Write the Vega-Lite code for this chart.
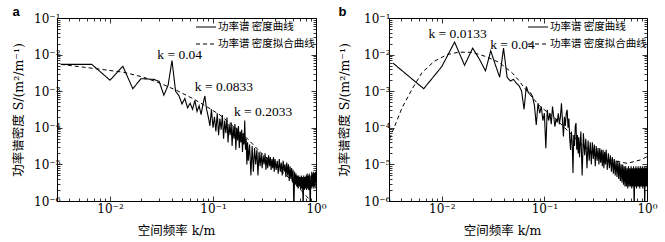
{
"$schema": "https://vega.github.io/schema/vega-lite/v6.json",
"background": "white",
"padding": {"left": 12, "top": 5, "right": 2, "bottom": 2},
"spacing": 11,
"resolve": {"scale": {"strokeDash": "independent"}, "legend": {"strokeDash": "independent"}},
"config": {
  "view": {"stroke": "black", "strokeWidth": 1},
  "axis": {"domain": false, "grid": false, "tickColor": "black", "tickWidth": 0.8, "labelFont": "DejaVu Serif", "labelFontSize": 12, "labelColor": "black", "labelOverlap": false, "labelFlush": false, "titleFont": "DejaVu Serif, Noto Sans CJK SC", "titleFontSize": 12.5, "titleFontWeight": "normal", "titleColor": "black"},
  "legend": {"padding": 0, "labelOffset": 1, "symbolType": "stroke", "symbolSize": 400, "symbolStrokeWidth": 1.1, "symbolStrokeColor": "black", "labelFont": "Noto Sans CJK SC", "labelFontSize": 10.5, "labelColor": "black", "labelLimit": 200},
  "title": {"anchor": "start", "frame": "bounds", "font": "Liberation Sans", "fontSize": 13, "fontWeight": "bold", "color": "black", "offset": -7}
},
"datasets": {
  "a_psd": [
    {"k":0.003333,"S":5.4e-3},{"k":0.006667,"S":5.4e-3},{"k":0.01,"S":2.0e-3},{"k":0.013333,"S":4.8e-3},{"k":0.016667,"S":1.17e-3},{"k":0.02,"S":2.2e-3},{"k":0.023333,"S":2.15e-3},{"k":0.026667,"S":2.1e-3},{"k":0.03,"S":1.86e-3},{"k":0.033333,"S":7.8e-4},
    {"k":0.036667,"S":1.45e-3},{"k":0.04,"S":6.9e-3},{"k":0.043333,"S":1.0e-3},{"k":0.046667,"S":7.6e-4},{"k":0.05,"S":4.5e-4},{"k":0.053333,"S":6.3e-4},{"k":0.056667,"S":3.5e-4},{"k":0.06,"S":4.7e-4},{"k":0.063333,"S":3.2e-4},{"k":0.066667,"S":5.6e-4},
    {"k":0.07,"S":2.8e-4},{"k":0.073333,"S":4.0e-4},{"k":0.076667,"S":2.3e-4},{"k":0.08,"S":4.5e-4},{"k":0.083333,"S":7.4e-4},{"k":0.086667,"S":3.2e-4},{"k":0.09,"S":2.0e-4},{"k":0.093333,"S":1.12e-4},{"k":0.096667,"S":3.2e-4},{"k":0.1,"S":1.0e-4},
    {"k":0.103333,"S":2.0e-4},{"k":0.106667,"S":7.9e-5},{"k":0.11,"S":2.5e-4},{"k":0.113333,"S":6.3e-5},{"k":0.116667,"S":1.78e-4},{"k":0.12,"S":8.9e-5},{"k":0.123333,"S":2.24e-4},{"k":0.126667,"S":5.0e-5},{"k":0.13,"S":1.58e-4},{"k":0.133333,"S":7.1e-5},
    {"k":0.136667,"S":1.9e-4},{"k":0.14,"S":4.0e-5},{"k":0.143333,"S":1.26e-4},{"k":0.146667,"S":6.3e-5},{"k":0.15,"S":1.41e-4},{"k":0.153333,"S":3.2e-5},{"k":0.156667,"S":1.12e-4},{"k":0.16,"S":5.0e-5},{"k":0.163333,"S":1.26e-4},{"k":0.166667,"S":2.5e-5},
    {"k":0.17,"S":1.0e-4},{"k":0.173333,"S":4.5e-5},{"k":0.176667,"S":1.12e-4},{"k":0.18,"S":2.8e-5},{"k":0.183333,"S":7.9e-5},{"k":0.186667,"S":4.0e-5},{"k":0.19,"S":8.9e-5},{"k":0.193333,"S":2.2e-5},{"k":0.196667,"S":7.1e-5},{"k":0.2,"S":3.5e-5},
    {"k":0.203333,"S":1.58e-4},{"k":0.206667,"S":2.5e-5},{"k":0.21,"S":5.0e-5},{"k":0.213333,"S":1.0e-5},{"k":0.216667,"S":4.0e-5},{"k":0.22,"S":1.26e-5},{"k":0.226667,"S":3.5e-5},{"k":0.233333,"S":5.0e-6},{"k":0.24,"S":3.2e-5},{"k":0.246667,"S":6.3e-6},
    {"k":0.253333,"S":2.8e-5},{"k":0.26,"S":1.0e-5},{"k":0.266667,"S":2.5e-5},{"k":0.273333,"S":5.0e-6},{"k":0.28,"S":2.2e-5},{"k":0.286667,"S":8.9e-6},{"k":0.293333,"S":2.0e-5},{"k":0.3,"S":7.9e-6},{"k":0.306667,"S":1.78e-5},{"k":0.313333,"S":1.0e-5},
    {"k":0.32,"S":2.0e-5},{"k":0.326667,"S":7.1e-6},{"k":0.333333,"S":1.58e-5},{"k":0.34,"S":7.9e-6},{"k":0.346667,"S":1.78e-5},{"k":0.353333,"S":8.9e-6},{"k":0.36,"S":1.58e-5},{"k":0.366667,"S":7.1e-6},{"k":0.373333,"S":1.41e-5},{"k":0.38,"S":7.9e-6},
    {"k":0.386667,"S":1.58e-5},{"k":0.393333,"S":6.3e-6},{"k":0.4,"S":1.41e-5},{"k":0.41,"S":7.1e-6},{"k":0.42,"S":1.26e-5},{"k":0.43,"S":5.6e-6},{"k":0.44,"S":1.41e-5},{"k":0.45,"S":6.3e-6},{"k":0.46,"S":1.12e-5},{"k":0.47,"S":5.0e-6},
    {"k":0.48,"S":1.26e-5},{"k":0.49,"S":6.3e-6},{"k":0.5,"S":1.0e-5},{"k":0.51,"S":4.5e-6},{"k":0.52,"S":1.12e-5},{"k":0.53,"S":5.0e-6},{"k":0.54,"S":1.0e-5},{"k":0.55,"S":3.5e-6},{"k":0.56,"S":8.9e-6},{"k":0.57,"S":4.0e-6},
    {"k":0.58,"S":7.9e-6},{"k":0.59,"S":3.2e-6},{"k":0.6,"S":7.1e-6},{"k":0.61,"S":5.0e-7},{"k":0.62,"S":6.3e-6},{"k":0.63,"S":2.8e-6},{"k":0.64,"S":5.6e-6},{"k":0.65,"S":2.5e-6},{"k":0.66,"S":5.0e-6},{"k":0.67,"S":2.2e-6},
    {"k":0.68,"S":5.0e-6},{"k":0.69,"S":2.5e-6},{"k":0.7,"S":4.5e-6},{"k":0.71,"S":2.0e-6},{"k":0.72,"S":5.0e-6},{"k":0.73,"S":2.2e-6},{"k":0.74,"S":4.5e-6},{"k":0.75,"S":5.0e-7},{"k":0.76,"S":5.0e-6},{"k":0.77,"S":2.0e-6},
    {"k":0.78,"S":4.5e-6},{"k":0.79,"S":2.2e-6},{"k":0.8,"S":5.0e-6},{"k":0.81,"S":2.0e-6},{"k":0.82,"S":5.6e-6},{"k":0.83,"S":2.2e-6},{"k":0.84,"S":5.0e-6},{"k":0.85,"S":2.0e-6},{"k":0.86,"S":5.6e-6},{"k":0.87,"S":2.5e-6},
    {"k":0.88,"S":5.0e-7},{"k":0.89,"S":5.0e-6},{"k":0.9,"S":2.2e-6},{"k":0.91,"S":6.3e-6},{"k":0.92,"S":2.5e-6},{"k":0.93,"S":5.6e-6},{"k":0.94,"S":2.2e-6},{"k":0.95,"S":6.3e-6},{"k":0.96,"S":2.5e-6},{"k":0.97,"S":5.6e-6},
    {"k":0.98,"S":2.2e-6},{"k":0.99,"S":6.3e-6},{"k":1.0,"S":3.2e-6}
  ],
  "a_fit": [
    {"k":0.003333,"S":5.4e-3},{"k":0.0069,"S":4.2e-3},{"k":0.0135,"S":3.3e-3},{"k":0.021,"S":2.43e-3},{"k":0.0306,"S":1.66e-3},{"k":0.0444,"S":1.05e-3},{"k":0.0644,"S":6.2e-4},{"k":0.0867,"S":3.8e-4},
    {"k":0.117,"S":2.24e-4},{"k":0.157,"S":1.12e-4},{"k":0.211,"S":5.4e-5},{"k":0.285,"S":2.24e-5},{"k":0.414,"S":8.7e-6},{"k":0.6,"S":3.4e-6},{"k":0.87,"S":1.07e-6},{"k":1.0,"S":6.3e-7}
  ],
  "a_txt": [
    {"k":0.0288,"S":0.0097,"label":"k = 0.04"},{"k":0.0666,"S":0.00127,"label":"k = 0.0833"},{"k":0.1596,"S":0.000263,"label":"k = 0.2033"}
  ],
  "b_psd": [
    {"k":0.003333,"S":5.9e-3},{"k":0.006667,"S":1.17e-3},{"k":0.01,"S":4.7e-3},{"k":0.013333,"S":2.2e-2},{"k":0.016667,"S":5.1e-3},{"k":0.02,"S":1.5e-2},{"k":0.023333,"S":7.4e-3},{"k":0.026667,"S":3.6e-3},{"k":0.03,"S":1.26e-2},{"k":0.033333,"S":5.2e-3},
    {"k":0.036667,"S":2.4e-3},{"k":0.04,"S":1.5e-2},{"k":0.043333,"S":2.4e-3},{"k":0.046667,"S":1.9e-3},{"k":0.05,"S":2.1e-3},{"k":0.053333,"S":1.66e-3},{"k":0.056667,"S":1.41e-3},{"k":0.06,"S":1.0e-3},{"k":0.063333,"S":3.2e-4},{"k":0.066667,"S":1.35e-3},
    {"k":0.07,"S":8.9e-4},{"k":0.073333,"S":8.9e-4},{"k":0.076667,"S":7.2e-4},{"k":0.08,"S":4.0e-4},{"k":0.083333,"S":1.2e-4},{"k":0.086667,"S":4.7e-4},{"k":0.09,"S":2.5e-4},{"k":0.093333,"S":3.8e-4},{"k":0.096667,"S":1.58e-4},{"k":0.1,"S":2.5e-4},
    {"k":0.103333,"S":2.75e-5},{"k":0.106667,"S":3.1e-4},{"k":0.11,"S":1.58e-4},{"k":0.113333,"S":2.5e-4},{"k":0.116667,"S":1.26e-4},{"k":0.12,"S":3.8e-4},{"k":0.123333,"S":2.0e-4},{"k":0.126667,"S":1.07e-4},{"k":0.13,"S":1.78e-4},{"k":0.133333,"S":1.41e-4},
    {"k":0.136667,"S":2.5e-4},{"k":0.14,"S":1.26e-4},{"k":0.143333,"S":2.0e-4},{"k":0.146667,"S":4.7e-4},{"k":0.15,"S":1.58e-4},{"k":0.153333,"S":5.8e-5},{"k":0.156667,"S":2.0e-4},{"k":0.16,"S":1.12e-4},{"k":0.163333,"S":2.5e-4},{"k":0.166667,"S":3.1e-4},
    {"k":0.17,"S":1.0e-4},{"k":0.173333,"S":1.78e-4},{"k":0.176667,"S":5.0e-5},{"k":0.18,"S":2.5e-5},{"k":0.183333,"S":7.9e-5},{"k":0.186667,"S":4.0e-5},{"k":0.19,"S":5.8e-6},{"k":0.193333,"S":6.3e-5},{"k":0.196667,"S":3.2e-5},{"k":0.2,"S":1.12e-4},
    {"k":0.203333,"S":1.35e-4},{"k":0.206667,"S":2.5e-5},{"k":0.21,"S":6.3e-5},{"k":0.213333,"S":2.0e-5},{"k":0.216667,"S":5.6e-5},{"k":0.22,"S":1.58e-5},{"k":0.226667,"S":7.9e-5},{"k":0.233333,"S":5.0e-6},{"k":0.24,"S":7.1e-5},{"k":0.246667,"S":1.78e-5},
    {"k":0.253333,"S":5.0e-5},{"k":0.26,"S":7.9e-6},{"k":0.266667,"S":4.5e-5},{"k":0.273333,"S":1.26e-5},{"k":0.28,"S":4.0e-5},{"k":0.286667,"S":1.0e-5},{"k":0.293333,"S":4.0e-5},{"k":0.3,"S":1.41e-5},{"k":0.306667,"S":3.5e-5},{"k":0.313333,"S":8.9e-6},
    {"k":0.32,"S":3.2e-5},{"k":0.326667,"S":1.26e-5},{"k":0.333333,"S":2.8e-5},{"k":0.34,"S":1.0e-5},{"k":0.346667,"S":2.8e-5},{"k":0.353333,"S":1.12e-5},{"k":0.36,"S":2.5e-5},{"k":0.366667,"S":8.9e-6},{"k":0.373333,"S":2.5e-5},{"k":0.38,"S":7.9e-6},
    {"k":0.386667,"S":2.2e-5},{"k":0.393333,"S":1.0e-5},{"k":0.4,"S":2.5e-5},{"k":0.41,"S":7.1e-6},{"k":0.42,"S":2.0e-5},{"k":0.43,"S":7.9e-6},{"k":0.44,"S":1.78e-5},{"k":0.45,"S":6.3e-6},{"k":0.46,"S":1.58e-5},{"k":0.47,"S":5.6e-6},
    {"k":0.48,"S":1.41e-5},{"k":0.49,"S":5.0e-6},{"k":0.5,"S":1.26e-5},{"k":0.51,"S":4.5e-6},{"k":0.52,"S":1.26e-5},{"k":0.53,"S":4.0e-6},{"k":0.54,"S":1.12e-5},{"k":0.55,"S":3.5e-6},{"k":0.56,"S":1.0e-5},{"k":0.57,"S":3.2e-6},
    {"k":0.58,"S":1.0e-5},{"k":0.59,"S":2.8e-6},{"k":0.6,"S":8.9e-6},{"k":0.61,"S":2.5e-6},{"k":0.62,"S":8.9e-6},{"k":0.63,"S":2.5e-6},{"k":0.64,"S":7.9e-6},{"k":0.65,"S":2.2e-6},{"k":0.66,"S":8.9e-6},{"k":0.67,"S":2.5e-6},
    {"k":0.68,"S":7.9e-6},{"k":0.69,"S":2.5e-6},{"k":0.7,"S":8.9e-6},{"k":0.71,"S":2.2e-6},{"k":0.72,"S":7.9e-6},{"k":0.73,"S":2.5e-6},{"k":0.74,"S":8.9e-6},{"k":0.75,"S":5.0e-7},{"k":0.76,"S":7.9e-6},{"k":0.77,"S":2.5e-6},
    {"k":0.78,"S":8.9e-6},{"k":0.79,"S":2.2e-6},{"k":0.8,"S":7.9e-6},{"k":0.81,"S":2.5e-6},{"k":0.82,"S":8.9e-6},{"k":0.83,"S":2.5e-6},{"k":0.84,"S":7.9e-6},{"k":0.85,"S":2.2e-6},{"k":0.86,"S":8.9e-6},{"k":0.87,"S":2.5e-6},
    {"k":0.88,"S":7.9e-6},{"k":0.89,"S":2.5e-6},{"k":0.9,"S":8.9e-6},{"k":0.91,"S":2.2e-6},{"k":0.92,"S":7.9e-6},{"k":0.93,"S":2.5e-6},{"k":0.94,"S":8.9e-6},{"k":0.95,"S":5.0e-7},{"k":0.96,"S":7.9e-6},{"k":0.97,"S":2.5e-6},
    {"k":0.98,"S":8.9e-6},{"k":0.99,"S":2.5e-6},{"k":1.0,"S":7.9e-6}
  ],
  "b_fit": [
    {"k":0.0031,"S":5.0e-5},{"k":0.0041,"S":3.5e-4},{"k":0.0051,"S":1.1e-3},{"k":0.0064,"S":3.2e-3},{"k":0.0084,"S":6.5e-3},{"k":0.0113,"S":1.0e-2},{"k":0.0147,"S":1.17e-2},{"k":0.0198,"S":1.15e-2},
    {"k":0.0267,"S":8.9e-3},{"k":0.036,"S":6.2e-3},{"k":0.0485,"S":3.2e-3},{"k":0.056,"S":2.0e-3},{"k":0.0676,"S":1.0e-3},{"k":0.091,"S":3.8e-4},{"k":0.123,"S":2.0e-4},{"k":0.166,"S":8.7e-5},
    {"k":0.224,"S":3.8e-5},{"k":0.302,"S":2.0e-5},{"k":0.44,"S":1.32e-5},{"k":0.64,"S":1.07e-5},{"k":0.86,"S":1.32e-5},{"k":1.0,"S":1.62e-5}
  ],
  "b_txt": [
    {"k":0.00741,"S":0.0365,"label":"k = 0.0133"},{"k":0.0296,"S":0.0186,"label":"k = 0.04"}
  ]
},
"hconcat": [
  {
    "title": {"text": "a"},
    "width": 259, "height": 183,
    "resolve": {"axis": {"x": "independent", "y": "independent"}},
    "layer": [
      {
        "data": {"name": "a_psd"},
        "mark": {"type": "line", "clip": true, "color": "black", "strokeWidth": 1.1},
        "encoding": {
          "x": {"field": "k", "type": "quantitative", "scale": {"type": "log", "domain": [0.00306, 1], "nice": false},
                "axis": {"orient": "bottom", "values": [0.004,0.005,0.006,0.007,0.008,0.009,0.01,0.02,0.03,0.04,0.05,0.06,0.07,0.08,0.09,0.1,0.2,0.3,0.4,0.5,0.6,0.7,0.8,0.9,1],
                         "labelExpr": "abs(log(datum.value)/LN10-round(log(datum.value)/LN10))<0.001 ? '10' + (datum.value < 0.5 ? '⁻' : '') + ['⁰','¹','²','³','⁴','⁵','⁶'][abs(round(log(datum.value)/LN10))] : ''",
                         "tickSize": {"condition": {"test": "abs(log(datum.value)/LN10-round(log(datum.value)/LN10))<0.001", "value": -5}, "value": -3},
                         "labelPadding": 7, "title": "空间频率  k/m", "titlePadding": 8, "titleX": 119}},
          "y": {"field": "S", "type": "quantitative", "scale": {"type": "log", "domain": [1e-6, 0.1], "nice": false},
                "axis": {"orient": "left", "values": [1e-6,2e-6,3e-6,4e-6,5e-6,6e-6,7e-6,8e-6,9e-6,1e-5,2e-5,3e-5,4e-5,5e-5,6e-5,7e-5,8e-5,9e-5,1e-4,2e-4,3e-4,4e-4,5e-4,6e-4,7e-4,8e-4,9e-4,1e-3,2e-3,3e-3,4e-3,5e-3,6e-3,7e-3,8e-3,9e-3,1e-2,2e-2,3e-2,4e-2,5e-2,6e-2,7e-2,8e-2,9e-2,0.1],
                         "labelExpr": "abs(log(datum.value)/LN10-round(log(datum.value)/LN10))<0.001 ? '10' + (datum.value < 0.5 ? '⁻' : '') + ['⁰','¹','²','³','⁴','⁵','⁶'][abs(round(log(datum.value)/LN10))] : ''",
                         "tickSize": {"condition": {"test": "abs(log(datum.value)/LN10-round(log(datum.value)/LN10))<0.001", "value": -5}, "value": -3},
                         "labelPadding": 2, "title": "功率谱密度  S/(m²/m⁻¹)", "titlePadding": 8}},
          "strokeDash": {"datum": "功率谱 密度曲线", "type": "nominal", "scale": {"domain": ["功率谱 密度曲线", "功率谱 密度拟合曲线"], "range": [[1, 0], [4, 3]]}, "legend": {"title": null, "orient": "none", "legendX": 138, "legendY": -2, "rowPadding": -6}}
        }
      },
      {
        "data": {"name": "a_fit"},
        "mark": {"type": "line", "clip": true, "color": "black", "strokeWidth": 1},
        "encoding": {
          "x": {"field": "k", "type": "quantitative", "scale": {"type": "log", "domain": [0.00306, 1], "nice": false},
                "axis": {"orient": "top", "values": [0.004,0.005,0.006,0.007,0.008,0.009,0.01,0.02,0.03,0.04,0.05,0.06,0.07,0.08,0.09,0.1,0.2,0.3,0.4,0.5,0.6,0.7,0.8,0.9,1], "labels": false, "title": null,
                         "tickSize": {"condition": {"test": "abs(log(datum.value)/LN10-round(log(datum.value)/LN10))<0.001", "value": -5}, "value": -3}}},
          "y": {"field": "S", "type": "quantitative", "scale": {"type": "log", "domain": [1e-6, 0.1], "nice": false},
                "axis": {"orient": "right", "values": [1e-6,2e-6,3e-6,4e-6,5e-6,6e-6,7e-6,8e-6,9e-6,1e-5,2e-5,3e-5,4e-5,5e-5,6e-5,7e-5,8e-5,9e-5,1e-4,2e-4,3e-4,4e-4,5e-4,6e-4,7e-4,8e-4,9e-4,1e-3,2e-3,3e-3,4e-3,5e-3,6e-3,7e-3,8e-3,9e-3,1e-2,2e-2,3e-2,4e-2,5e-2,6e-2,7e-2,8e-2,9e-2,0.1], "labels": false, "title": null,
                         "tickSize": {"condition": {"test": "abs(log(datum.value)/LN10-round(log(datum.value)/LN10))<0.001", "value": -5}, "value": -3}}},
          "strokeDash": {"datum": "功率谱 密度拟合曲线", "type": "nominal"}
        }
      },
      {
        "data": {"name": "a_txt"},
        "mark": {"type": "text", "align": "left", "baseline": "middle", "font": "Liberation Serif", "fontSize": 13.5, "color": "black"},
        "encoding": {
          "x": {"field": "k", "type": "quantitative", "scale": {"type": "log", "domain": [0.00306, 1], "nice": false}, "axis": null},
          "y": {"field": "S", "type": "quantitative", "scale": {"type": "log", "domain": [1e-6, 0.1], "nice": false}, "axis": null},
          "text": {"field": "label"}
        }
      }
    ]
  },
  {
    "title": {"text": "b"},
    "width": 258, "height": 183,
    "resolve": {"axis": {"x": "independent", "y": "independent"}},
    "layer": [
      {
        "data": {"name": "b_psd"},
        "mark": {"type": "line", "clip": true, "color": "black", "strokeWidth": 1.1},
        "encoding": {
          "x": {"field": "k", "type": "quantitative", "scale": {"type": "log", "domain": [0.00306, 1], "nice": false},
                "axis": {"orient": "bottom", "values": [0.004,0.005,0.006,0.007,0.008,0.009,0.01,0.02,0.03,0.04,0.05,0.06,0.07,0.08,0.09,0.1,0.2,0.3,0.4,0.5,0.6,0.7,0.8,0.9,1],
                         "labelExpr": "abs(log(datum.value)/LN10-round(log(datum.value)/LN10))<0.001 ? '10' + (datum.value < 0.5 ? '⁻' : '') + ['⁰','¹','²','³','⁴','⁵','⁶'][abs(round(log(datum.value)/LN10))] : ''",
                         "tickSize": {"condition": {"test": "abs(log(datum.value)/LN10-round(log(datum.value)/LN10))<0.001", "value": -5}, "value": -3},
                         "labelPadding": 7, "title": "空间频率  k/m", "titlePadding": 8, "titleX": 113}},
          "y": {"field": "S", "type": "quantitative", "scale": {"type": "log", "domain": [1e-6, 0.1], "nice": false},
                "axis": {"orient": "left", "values": [1e-6,2e-6,3e-6,4e-6,5e-6,6e-6,7e-6,8e-6,9e-6,1e-5,2e-5,3e-5,4e-5,5e-5,6e-5,7e-5,8e-5,9e-5,1e-4,2e-4,3e-4,4e-4,5e-4,6e-4,7e-4,8e-4,9e-4,1e-3,2e-3,3e-3,4e-3,5e-3,6e-3,7e-3,8e-3,9e-3,1e-2,2e-2,3e-2,4e-2,5e-2,6e-2,7e-2,8e-2,9e-2,0.1],
                         "labelExpr": "abs(log(datum.value)/LN10-round(log(datum.value)/LN10))<0.001 ? '10' + (datum.value < 0.5 ? '⁻' : '') + ['⁰','¹','²','³','⁴','⁵','⁶'][abs(round(log(datum.value)/LN10))] : ''",
                         "tickSize": {"condition": {"test": "abs(log(datum.value)/LN10-round(log(datum.value)/LN10))<0.001", "value": -5}, "value": -3},
                         "labelPadding": 4, "title": "功率谱密度  S/(m²/m⁻¹)", "titlePadding": 12}},
          "strokeDash": {"datum": "功率谱 密度曲线", "type": "nominal", "scale": {"domain": ["功率谱 密度曲线", "功率谱 密度拟合曲线"], "range": [[1, 0], [4, 3]]}, "legend": {"title": null, "orient": "none", "legendX": 138, "legendY": -2, "rowPadding": -8}}
        }
      },
      {
        "data": {"name": "b_fit"},
        "mark": {"type": "line", "clip": true, "color": "black", "strokeWidth": 1},
        "encoding": {
          "x": {"field": "k", "type": "quantitative", "scale": {"type": "log", "domain": [0.00306, 1], "nice": false},
                "axis": {"orient": "top", "values": [0.004,0.005,0.006,0.007,0.008,0.009,0.01,0.02,0.03,0.04,0.05,0.06,0.07,0.08,0.09,0.1,0.2,0.3,0.4,0.5,0.6,0.7,0.8,0.9,1], "labels": false, "title": null,
                         "tickSize": {"condition": {"test": "abs(log(datum.value)/LN10-round(log(datum.value)/LN10))<0.001", "value": -5}, "value": -3}}},
          "y": {"field": "S", "type": "quantitative", "scale": {"type": "log", "domain": [1e-6, 0.1], "nice": false},
                "axis": {"orient": "right", "values": [1e-6,2e-6,3e-6,4e-6,5e-6,6e-6,7e-6,8e-6,9e-6,1e-5,2e-5,3e-5,4e-5,5e-5,6e-5,7e-5,8e-5,9e-5,1e-4,2e-4,3e-4,4e-4,5e-4,6e-4,7e-4,8e-4,9e-4,1e-3,2e-3,3e-3,4e-3,5e-3,6e-3,7e-3,8e-3,9e-3,1e-2,2e-2,3e-2,4e-2,5e-2,6e-2,7e-2,8e-2,9e-2,0.1], "labels": false, "title": null,
                         "tickSize": {"condition": {"test": "abs(log(datum.value)/LN10-round(log(datum.value)/LN10))<0.001", "value": -5}, "value": -3}}},
          "strokeDash": {"datum": "功率谱 密度拟合曲线", "type": "nominal"}
        }
      },
      {
        "data": {"name": "b_txt"},
        "mark": {"type": "text", "align": "left", "baseline": "middle", "font": "Liberation Serif", "fontSize": 13.5, "color": "black"},
        "encoding": {
          "x": {"field": "k", "type": "quantitative", "scale": {"type": "log", "domain": [0.00306, 1], "nice": false}, "axis": null},
          "y": {"field": "S", "type": "quantitative", "scale": {"type": "log", "domain": [1e-6, 0.1], "nice": false}, "axis": null},
          "text": {"field": "label"}
        }
      }
    ]
  }
]
}
